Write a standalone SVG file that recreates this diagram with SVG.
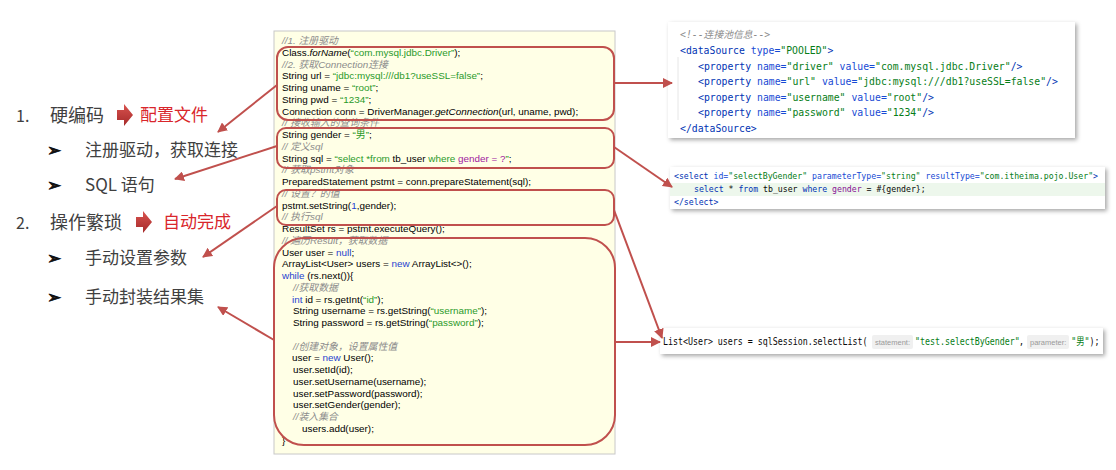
<svg xmlns="http://www.w3.org/2000/svg" width="1116" height="470" viewBox="0 0 1116 470">
<style>
.lt{font-family:"Noto Sans CJK SC","Noto Sans",sans-serif;fill:#404040}
.rd{font-family:"Noto Sans CJK SC",sans-serif;fill:#D9262B}
.bl{font-family:"DejaVu Sans","Noto Sans CJK SC",sans-serif;font-size:17px;fill:#111;stroke:#111;stroke-width:0.7}
.code{font-family:"Liberation Sans","Noto Sans CJK SC",sans-serif;font-size:9.9px;fill:#000}
.cm{fill:#8C8C8C;font-style:italic}
.st{fill:#2A9A2A}
.kw{fill:#1F3FD0}
.pu{fill:#A020A0}
.mono{font-family:"DejaVu Sans Mono","Liberation Mono","Noto Sans CJK SC",monospace;fill:#080808}
.tg{fill:#0033B3}
.at{fill:#174AD4}
.vl{fill:#067D17}
.xc{fill:#8C8C8C;font-style:italic}
.hl{fill:#871094}
.hint{font-family:"Liberation Sans","Noto Sans",sans-serif;font-size:7.5px;fill:#9A9A9A}
.rb{fill:none;stroke:#C0504D;stroke-width:2}
.cn{fill:none;stroke:#C0504D;stroke-width:2;marker-end:url(#ah)}
.panel{fill:#FFFFFF;filter:url(#sh)}
</style>
<defs>
<marker id="ah" viewBox="0 0 10 10" refX="9" refY="5" markerWidth="5" markerHeight="5" orient="auto" markerUnits="strokeWidth">
<path d="M0,0 L10,5 L0,10 z" fill="#C0504D"/>
</marker>
<filter id="sh" x="-5%" y="-20%" width="110%" height="150%">
<feDropShadow dx="2" dy="2" stdDeviation="2" flood-color="#000" flood-opacity="0.35"/>
</filter>
<linearGradient id="ag" x1="0" y1="0" x2="0" y2="1">
<stop offset="0" stop-color="#D9534F"/>
<stop offset="1" stop-color="#A52A2A"/>
</linearGradient>
</defs>
<rect width="1116" height="470" fill="#FFFFFF"/>

<g id="left-list">
<text class="lt" x="16" y="122" font-size="16">1.</text>
<text class="lt" x="50" y="122" font-size="18">硬编码</text>
<path d="M117,110 H124 V104 L133,115 L124,126 V120 H117 Z" fill="url(#ag)"/>
<text class="rd" x="140" y="121" font-size="17">配置文件</text>
<text class="bl" x="47" y="156">➢</text>
<text class="lt" x="85" y="156" font-size="17">注册驱动，获取连接</text>
<text class="bl" x="47" y="191">➢</text>
<text class="lt" x="85" y="191" font-size="17">SQL 语句</text>
<text class="lt" x="16" y="229" font-size="16">2.</text>
<text class="lt" x="50" y="229" font-size="18">操作繁琐</text>
<path d="M136,217 H143 V211 L152,222 L143,233 V227 H136 Z" fill="url(#ag)"/>
<text class="rd" x="163" y="228" font-size="17">自动完成</text>
<text class="bl" x="47" y="264">➢</text>
<text class="lt" x="85" y="264" font-size="17">手动设置参数</text>
<text class="bl" x="47" y="303">➢</text>
<text class="lt" x="85" y="303" font-size="17">手动封装结果集</text>
</g>

<g id="jdbc-code">
<rect x="274" y="31" width="341" height="423" fill="#FFFFE6" stroke="#C8C8C8" stroke-width="1"/>
<text class="code">
<tspan x="282" y="44" class="cm">//1. 注册驱动</tspan>
<tspan x="282" y="55.75">Class.<tspan font-style="italic">forName</tspan>(<tspan class="st">“com.mysql.jdbc.Driver”</tspan>);</tspan>
<tspan x="282" y="67.5" class="cm">//2. 获取Connection连接</tspan>
<tspan x="282" y="79.25">String url = <tspan class="st">“jdbc:mysql:///db1?useSSL=false”</tspan>;</tspan>
<tspan x="282" y="91">String uname = <tspan class="st">“root”</tspan>;</tspan>
<tspan x="282" y="102.75">String pwd = <tspan class="st">“1234”</tspan>;</tspan>
<tspan x="282" y="114.5">Connection conn = DriverManager.<tspan font-style="italic">getConnection</tspan>(url, uname, pwd);</tspan>
<tspan x="282" y="126.25" class="cm">// 接收输入的查询条件</tspan>
<tspan x="282" y="138">String gender = <tspan class="st">“男”</tspan>;</tspan>
<tspan x="282" y="149.75" class="cm">// 定义sql</tspan>
<tspan x="282" y="161.5">String sql = <tspan class="st">“select *from</tspan> tb_user <tspan class="st">where</tspan> <tspan class="pu">gender = ?</tspan><tspan class="st">”</tspan>;</tspan>
<tspan x="282" y="173.25" class="cm">// 获取pstmt对象</tspan>
<tspan x="282" y="185">PreparedStatement pstmt = conn.prepareStatement(sql);</tspan>
<tspan x="282" y="196.75" class="cm">// 设置？的值</tspan>
<tspan x="282" y="208.5">pstmt.setString(<tspan class="kw">1</tspan>,gender);</tspan>
<tspan x="282" y="220.25" class="cm">// 执行sql</tspan>
<tspan x="282" y="232">ResultSet rs = pstmt.executeQuery();</tspan>
<tspan x="282" y="243.75" class="cm">// 遍历Result，获取数据</tspan>
<tspan x="282" y="255.5">User user = <tspan class="kw">null</tspan>;</tspan>
<tspan x="282" y="267.25">ArrayList&lt;User&gt; users = <tspan class="kw">new</tspan> ArrayList&lt;&gt;();</tspan>
<tspan x="282" y="279"><tspan class="kw">while</tspan> (rs.next()){</tspan>
<tspan x="293" y="290.75" class="cm">//获取数据</tspan>
<tspan x="292" y="302.5"><tspan class="kw">int</tspan> id = rs.getInt(<tspan class="st">“id”</tspan>);</tspan>
<tspan x="293" y="314.25">String username = rs.getString(<tspan class="st">“username”</tspan>);</tspan>
<tspan x="293" y="326">String password = rs.getString(<tspan class="st">“password”</tspan>);</tspan>
<tspan x="293" y="349.5" class="cm">//创建对象，设置属性值</tspan>
<tspan x="292" y="361.25">user = <tspan class="kw">new</tspan> User();</tspan>
<tspan x="293" y="373">user.setId(id);</tspan>
<tspan x="293" y="384.75">user.setUsername(username);</tspan>
<tspan x="293" y="396.5">user.setPassword(password);</tspan>
<tspan x="293" y="408.25">user.setGender(gender);</tspan>
<tspan x="293" y="420" class="cm">//装入集合</tspan>
<tspan x="302" y="431.75">users.add(user);</tspan>
<tspan x="282" y="443.5">}</tspan>
</text>
<rect class="rb" x="277" y="47" width="337" height="73" rx="11"/>
<rect class="rb" x="277" y="128" width="337" height="40" rx="9"/>
<rect class="rb" x="277" y="190" width="337" height="35" rx="9"/>
<rect class="rb" x="274" y="238" width="341" height="207" rx="30"/>
</g>

<g id="datasource-panel">
<rect class="panel" x="668" y="22" width="407" height="116"/>
<line x1="678" y1="57" x2="678" y2="120" stroke="#E6E6E6" stroke-width="1"/>
<text class="mono" font-size="9.8">
<tspan x="680" y="38" class="xc">&lt;!--连接池信息--&gt;</tspan>
<tspan x="680" y="53.5"><tspan class="tg">&lt;dataSource</tspan> <tspan class="at">type=</tspan><tspan class="vl">"POOLED"</tspan><tspan class="tg">&gt;</tspan></tspan>
<tspan x="698" y="69.5"><tspan class="tg">&lt;property</tspan> <tspan class="at">name=</tspan><tspan class="vl">"driver"</tspan> <tspan class="at">value=</tspan><tspan class="vl">"com.mysql.jdbc.Driver"</tspan><tspan class="tg">/&gt;</tspan></tspan>
<tspan x="698" y="85"><tspan class="tg">&lt;property</tspan> <tspan class="at">name=</tspan><tspan class="vl">"url"</tspan> <tspan class="at">value=</tspan><tspan class="vl">"jdbc:mysql:///db1?useSSL=false"</tspan><tspan class="tg">/&gt;</tspan></tspan>
<tspan x="698" y="100.5"><tspan class="tg">&lt;property</tspan> <tspan class="at">name=</tspan><tspan class="vl">"username"</tspan> <tspan class="at">value=</tspan><tspan class="vl">"root"</tspan><tspan class="tg">/&gt;</tspan></tspan>
<tspan x="698" y="116"><tspan class="tg">&lt;property</tspan> <tspan class="at">name=</tspan><tspan class="vl">"password"</tspan> <tspan class="at">value=</tspan><tspan class="vl">"1234"</tspan><tspan class="tg">/&gt;</tspan></tspan>
<tspan x="680" y="131.5"><tspan class="tg">&lt;/dataSource&gt;</tspan></tspan>
</text>
</g>

<g id="select-panel">
<rect class="panel" x="670" y="167" width="435" height="42"/>
<rect x="670" y="183" width="435" height="13" fill="#EDF7EC"/>
<text class="mono" font-size="8.2">
<tspan x="674" y="179"><tspan class="tg">&lt;select</tspan> <tspan class="at">id=</tspan><tspan class="vl">"selectByGender"</tspan> <tspan class="at">parameterType=</tspan><tspan class="vl">"string"</tspan>  <tspan class="at">resultType=</tspan><tspan class="vl">"com.itheima.pojo.User"</tspan><tspan class="tg">&gt;</tspan></tspan>
<tspan x="694" y="192"><tspan class="tg">select</tspan> * <tspan class="tg">from</tspan> tb_user <tspan class="tg">where</tspan> <tspan class="hl">gender</tspan> = #{gender};</tspan>
<tspan x="674" y="205"><tspan class="tg">&lt;/select&gt;</tspan></tspan>
</text>
</g>

<g id="selectlist-panel">
<rect class="panel" x="660" y="328" width="443" height="26"/>
<rect x="872" y="335" width="41" height="14" rx="2" fill="#F0F0F0"/>
<rect x="1027" y="335" width="42" height="14" rx="2" fill="#F0F0F0"/>
<text class="hint" x="875" y="345">statement:</text>
<text class="hint" x="1030" y="345">parameter:</text>
<g transform="translate(663,345) scale(0.83,1)">
<text class="mono" font-size="10">
<tspan x="0" y="0">List&lt;User&gt; users = sqlSession.selectList(</tspan>
<tspan x="303.6" y="0" class="vl">"test.selectByGender"</tspan>
<tspan x="429" y="0">,</tspan>
<tspan x="492" y="0"><tspan class="vl">"男"</tspan>);</tspan>
</text>
</g>
</g>

<g id="connectors">
<line class="cn" x1="277" y1="85" x2="218" y2="132"/>
<line class="cn" x1="277" y1="146" x2="175" y2="179"/>
<line class="cn" x1="277" y1="206" x2="203" y2="257"/>
<line class="cn" x1="274" y1="340" x2="218" y2="307"/>
<line class="cn" x1="614" y1="83" x2="672" y2="83"/>
<line class="cn" x1="614" y1="147" x2="672" y2="187"/>
<line class="cn" x1="614" y1="210" x2="662" y2="338"/>
<line class="cn" x1="615" y1="342" x2="660" y2="342"/>
</g>
</svg>
